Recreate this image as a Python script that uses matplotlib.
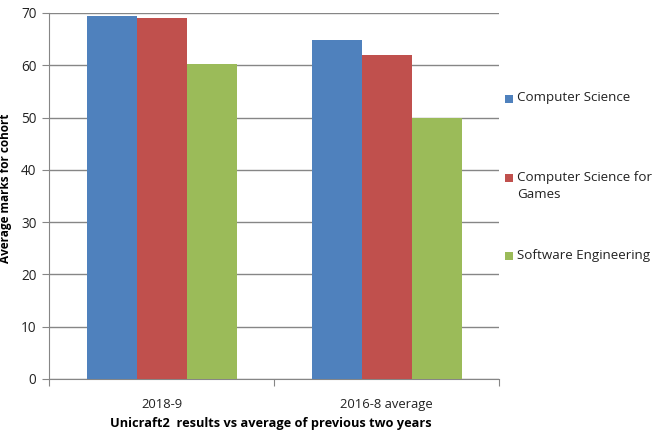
import matplotlib
matplotlib.use("Agg")
import matplotlib.pyplot as plt
from matplotlib.patches import Rectangle
import numpy as np

categories = ["2018-9", "2016-8 average"]
series_names = ["Computer Science", "Computer Science for\nGames", "Software Engineering"]
cs = [69.5, 64.8]
csg = [69.1, 61.9]
se = [60.3, 50.0]
colors = ["#4F81BD", "#C0504D", "#9BBB59"]

plt.rcParams['font.family'] = ['Open Sans', 'DejaVu Sans']
TXT = "#222222"

W, H = 659, 430
fig = plt.figure(figsize=(W/100, H/100), dpi=100)
ax = fig.add_axes([49/W, 1-379/H, 450/W, 366/H])

x = np.arange(len(categories))
w = 1/4.5
for i, (vals, name, c) in enumerate(zip([cs, csg, se], series_names, colors)):
    ax.bar(x + (i-1)*w, vals, width=w, color=c, label=name, zorder=3)

ax.set_xlim(-0.5, 1.5)
ax.set_ylim(0, 70)
ax.set_yticks(range(0, 71, 10))
ax.yaxis.grid(True, color="#868686", linewidth=1, zorder=0)
ax.set_xticks([-0.5, 0.5, 1.5])
ax.set_xticklabels([])
ax.set_xticks(x, minor=True)
ax.set_xticklabels(categories, minor=True, fontsize=9.4, color=TXT)
ax.tick_params(axis='x', which='minor', length=0, pad=14)
ax.tick_params(axis='x', which='major', length=5, color="#868686", direction='out')
ax.tick_params(axis='y', length=5, color="#868686", labelsize=9.8, pad=4, labelcolor=TXT)
for s in ["top", "right"]:
    ax.spines[s].set_visible(False)
for s in ["left", "bottom"]:
    ax.spines[s].set_color("#868686")

fig.text(6/W, 1-188/H, "Average marks for cohort", rotation=90, fontweight='bold',
         fontsize=8.5, ha='center', va='center', color="black")
fig.text(271/W, 1-423/H, "Unicraft2  results vs average of previous two years",
         fontweight='bold', fontsize=9.2, ha='center', va='center', color="black")

# legend (manual, first line aligned with marker)
leg_y = [99, 178, 256]
for name, c, yy in zip(series_names, colors, leg_y):
    fig.add_artist(Rectangle((505/W, 1-(yy+4)/H), 8/W, 8/H, transform=fig.transFigure,
                             facecolor=c, edgecolor='none'))
    fig.text(517/W, 1-(yy-7.5)/H, name, fontsize=9.6, ha='left', va='top',
             linespacing=1.45, color=TXT)

fig.savefig("out.png", dpi=100)
